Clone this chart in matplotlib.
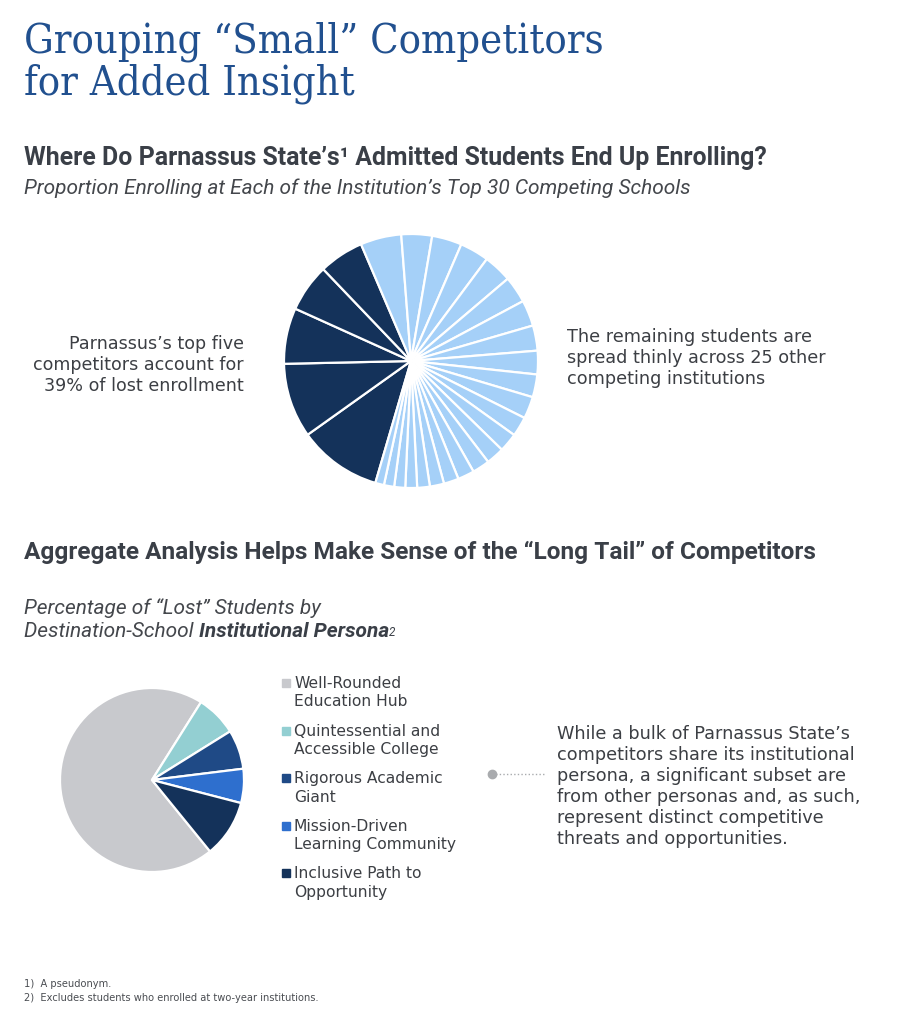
import matplotlib
matplotlib.use("Agg")
from matplotlib import pyplot as plt
from matplotlib.lines import Line2D
from matplotlib.patches import Rectangle

# top chart: share of lost students at each of the top competitors (%)
top_five = [10.6, 9.5, 7.1, 6.1, 5.7]
other_schools = [5.2, 3.9, 3.8, 3.7, 3.6, 3.4, 3.3, 3.2, 3.0, 2.9, 2.8, 2.5,
                 2.4, 2.3, 2.2, 2.1, 1.9, 1.8, 1.6, 1.5, 1.4, 1.3, 1.1]

# bottom chart: lost students by institutional persona (%)
personas = ["Well-Rounded\nEducation Hub",
            "Quintessential and\nAccessible College",
            "Rigorous Academic\nGiant",
            "Mission-Driven\nLearning Community",
            "Inclusive Path to\nOpportunity"]
persona_share = [69.8, 7.2, 6.9, 6.0, 10.1]
persona_colors = ["#c8c9cd", "#93cfd2", "#1f4a86", "#2e6fce", "#14325a"]

DARK = "#14325a"
LIGHT = "#a5d0f8"
TITLE_BLUE = "#21508f"
HEAD = "#3a3f47"
BODY = "#3c3f44"
SUB = "#44474c"

W, H = 912, 1024


def fx(x):
    return x / W


def fy(y):
    return 1 - y / H


def pie_box(cx, cy, r):
    return [(cx - r) / W, 1 - (cy + r) / H, 2 * r / W, 2 * r / H]


fig = plt.figure(figsize=(W / 100, H / 100), dpi=100)

# title (baseline given for the last line)
fig.text(fx(24), fy(95), "Grouping \u201cSmall\u201d Competitors\nfor Added Insight",
         family="DejaVu Serif", fontstretch="condensed", fontsize=29.8,
         color=TITLE_BLUE, va="baseline", linespacing=1.06)

# section 1
fig.text(fx(24), fy(165), "Where Do Parnassus State\u2019s\u00b9 Admitted Students End Up Enrolling?",
         family="Roboto", weight="bold", fontsize=17.9, color=HEAD, va="baseline")
fig.text(fx(24), fy(194), "Proportion Enrolling at Each of the Institution\u2019s Top 30 Competing Schools",
         family="Roboto", style="italic", fontsize=15, color=SUB, va="baseline")

ax1 = fig.add_axes(pie_box(411, 361, 127))
ax1.pie(top_five + other_schools,
        colors=[DARK] * len(top_five) + [LIGHT] * len(other_schools),
        startangle=253.7, counterclock=False,
        wedgeprops=dict(edgecolor="white", linewidth=1.6))
ax1.set_xlim(-1, 1)
ax1.set_ylim(-1, 1)

fig.text(fx(244), fy(391), "Parnassus\u2019s top five\ncompetitors account for\n39% of lost enrollment",
         fontsize=12.6, color=BODY, ha="right", va="baseline", linespacing=1.2,
         multialignment="right")
fig.text(fx(567), fy(384), "The remaining students are\nspread thinly across 25 other\ncompeting institutions",
         fontsize=12.7, color=BODY, ha="left", va="baseline", linespacing=1.2)

# section 2
fig.text(fx(24), fy(559), "Aggregate Analysis Helps Make Sense of the \u201cLong Tail\u201d of Competitors",
         family="Roboto", weight="bold", fontsize=17.6, color=HEAD, va="baseline")
fig.text(fx(24), fy(614), "Percentage of \u201cLost\u201d Students by",
         family="Roboto", style="italic", fontsize=15, color=SUB, va="baseline")
t1 = fig.text(fx(24), fy(637), "Destination-School ",
              family="Roboto", style="italic", fontsize=15, color=SUB, va="baseline")
t2 = fig.text(0, 0, "Institutional Persona", family="Roboto", weight="bold",
              style="italic", fontsize=15, color=HEAD, va="bottom")
renderer = fig.canvas.get_renderer()
bb = t1.get_window_extent(renderer).transformed(fig.transFigure.inverted())
t2.set_position((bb.x1, bb.y0))
bb2 = t2.get_window_extent(renderer).transformed(fig.transFigure.inverted())
fig.text(bb2.x1, bb2.y1 - 4 / H, "2", family="Roboto", style="italic",
         fontsize=8.5, color=HEAD, va="top")

ax2 = fig.add_axes(pie_box(152, 780, 92))
ax2.pie(persona_share, colors=persona_colors, startangle=309.1, counterclock=False,
        wedgeprops=dict(edgecolor="white", linewidth=1.6))
ax2.set_xlim(-1, 1)
ax2.set_ylim(-1, 1)

for i, (lab, col) in enumerate(zip(personas, persona_colors)):
    yc = 683 + 47.5 * i
    fig.add_artist(Rectangle((fx(282), fy(yc + 4)), 8 / W, 8 / H, color=col,
                             transform=fig.transFigure))
    fig.text(fx(294), fy(yc + 23.5), lab, fontsize=11.2, color=BODY,
             va="baseline", linespacing=1.26)

fig.add_artist(Line2D([fx(492), fx(546)], [fy(774), fy(774)], color="#a9abae",
                      lw=1, ls=(0, (1, 1.6)), transform=fig.transFigure))
fig.add_artist(Line2D([fx(492)], [fy(774)], color="#a9abae", marker="o",
                      markersize=6, ls="", transform=fig.transFigure))

fig.text(fx(557), fy(844),
         "While a bulk of Parnassus State\u2019s\ncompetitors share its institutional\n"
         "persona, a significant subset are\nfrom other personas and, as such,\n"
         "represent distinct competitive\nthreats and opportunities.",
         fontsize=12.7, color=BODY, va="baseline", linespacing=1.22)

# footnotes
fig.text(fx(24), fy(987), "1)  A pseudonym.", fontsize=7.1, color="#4a4d52", va="baseline")
fig.text(fx(24), fy(1001), "2)  Excludes students who enrolled at two-year institutions.",
         fontsize=7.1, color="#4a4d52", va="baseline")

fig.savefig("out.png", dpi=100)
